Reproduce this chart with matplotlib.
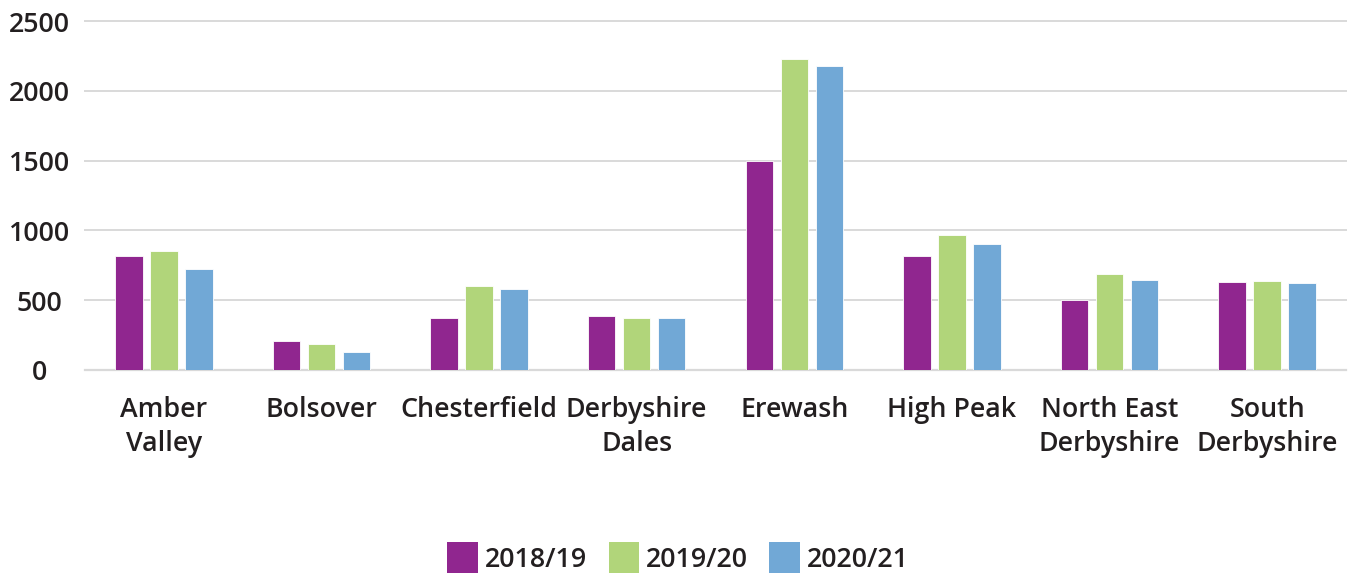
import numpy as np
import matplotlib.pyplot as plt
from matplotlib.patches import Patch

# districts and yearly values
districts = ['Amber\nValley', 'Bolsover', 'Chesterfield', 'Derbyshire\nDales',
             'Erewash', 'High Peak', 'North East\nDerbyshire', 'South\nDerbyshire']
years = ['2018/19', '2019/20', '2020/21']
v1819 = [820, 210, 370, 385, 1495, 820, 500, 630]
v1920 = [850, 185, 600, 370, 2230, 965, 685, 637]
v2021 = [720, 130, 580, 375, 2180, 900, 645, 620]
colors = ['#90268F', '#B1D57A', '#71A8D6']

plt.rcParams['font.family'] = ['Open Sans', 'DejaVu Sans']
plt.rcParams['font.weight'] = 'semibold'
txt = '#231F20'
fs = 19.3

fig = plt.figure(figsize=(13.51, 5.76), dpi=100)
ax = fig.add_axes([85/1351, 1-370/576, (1346-85)/1351, (370-21)/576])

x = np.arange(len(districts))
step = 0.222
for i, (vals, c) in enumerate(zip((v1819, v1920, v2021), colors)):
    ax.bar(x + (i-1)*step, vals, width=0.175, color=c, edgecolor='white',
           linewidth=0.6, zorder=3)

ax.set_xlim(-0.5, len(districts)-0.5)
ax.set_ylim(0, 2500)
ax.set_yticks([0, 500, 1000, 1500, 2000, 2500])
ax.yaxis.grid(True, color='#D9D9D9', linewidth=1.4, zorder=0)
for gl in ax.get_ygridlines():
    gl.set_clip_on(False)
ax.set_axisbelow(True)

for s in ['top', 'right', 'left']:
    ax.spines[s].set_visible(False)
ax.spines['bottom'].set_color('#D9D9D9')
ax.spines['bottom'].set_linewidth(1.6)

ax.tick_params(axis='y', length=0, pad=33, labelsize=fs, labelcolor=txt)
for lab in ax.get_yticklabels():
    lab.set_horizontalalignment('center')
ax.set_xticks(x)
ax.set_xticklabels(districts, fontsize=fs, color=txt, linespacing=1.27)
ax.tick_params(axis='x', length=0, pad=19)

handles = [Patch(facecolor=c, edgecolor='none') for c in colors]
fig.legend(handles, years, loc='center', bbox_to_anchor=(0.502, 0.031),
           ncol=3, frameon=False, fontsize=fs, handlelength=1.15,
           handleheight=1.4, handletextpad=0.25, columnspacing=0.8,
           labelcolor=txt, borderpad=0)

fig.savefig('out.png', dpi=100)
